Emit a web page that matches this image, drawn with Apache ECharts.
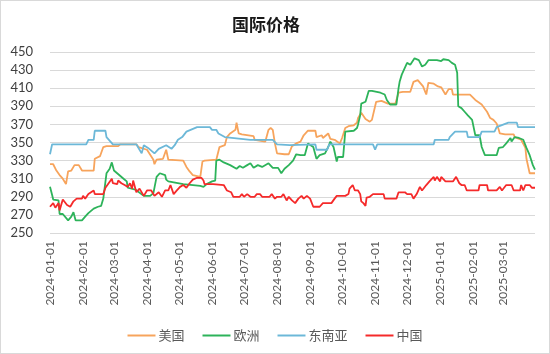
<!DOCTYPE html>
<html>
<head>
<meta charset="utf-8">
<script src="https://cdn.jsdelivr.net/npm/echarts@6/dist/echarts.min.js"></script>
<style>
  html, body { margin: 0; padding: 0; background: #fff; }
  #chart-container { width: 550px; height: 354px; box-sizing: border-box; border: 1px solid #d9d9d9; }
</style>
</head>
<body>
<div id="chart-container"></div>
<script>
var dom = document.getElementById("chart-container");
var myChart = echarts.init(dom, null, { renderer: "canvas" });

const seriesNames = ["美国", "欧洲", "东南亚", "中国"];
const yTicks = { min: 250, max: 450, step: 20 };

// daily categories, 2024-01-01 .. 2025-03-31
const firstDay = "2024-01-01";
const lastDay = "2025-03-31";
const dates = [];
for (let t = Date.parse(firstDay); t <= Date.parse(lastDay); t += 86400000) {
  dates.push(new Date(t).toISOString().slice(0, 10));
}

const usa = [
  ["2024-01-01", 326], ["2024-01-04", 326], ["2024-01-07", 319], ["2024-01-10", 314], ["2024-01-13", 310],
  ["2024-01-16", 304], ["2024-01-18", 318], ["2024-01-21", 319], ["2024-01-24", 325], ["2024-01-28", 325],
  ["2024-01-31", 319], ["2024-02-11", 319], ["2024-02-12", 332], ["2024-02-17", 335], ["2024-02-20", 345],
  ["2024-02-23", 346], ["2024-03-05", 346], ["2024-03-07", 348], ["2024-03-22", 348], ["2024-03-24", 345],
  ["2024-04-01", 342], ["2024-04-07", 331], ["2024-04-08", 326], ["2024-04-10", 331], ["2024-04-16", 332],
  ["2024-04-19", 342], ["2024-04-21", 331], ["2024-05-05", 330], ["2024-05-08", 323], ["2024-05-11", 318],
  ["2024-05-14", 314], ["2024-05-21", 312], ["2024-05-22", 312], ["2024-05-23", 329], ["2024-05-25", 330],
  ["2024-06-05", 331], ["2024-06-08", 345], ["2024-06-13", 347], ["2024-06-15", 356], ["2024-06-18", 360],
  ["2024-06-23", 364], ["2024-06-24", 372], ["2024-06-26", 360], ["2024-06-29", 359], ["2024-07-10", 357],
  ["2024-07-11", 353], ["2024-07-21", 351], ["2024-07-24", 364], ["2024-07-26", 366], ["2024-07-28", 364],
  ["2024-07-30", 349], ["2024-08-01", 338], ["2024-08-08", 337], ["2024-08-12", 337], ["2024-08-15", 346],
  ["2024-08-19", 349], ["2024-08-23", 351], ["2024-08-26", 358], ["2024-08-30", 363], ["2024-09-06", 363],
  ["2024-09-07", 356], ["2024-09-12", 358], ["2024-09-13", 355], ["2024-09-18", 360], ["2024-09-20", 354],
  ["2024-09-24", 353], ["2024-09-29", 349], ["2024-10-01", 355], ["2024-10-02", 356], ["2024-10-04", 366],
  ["2024-10-07", 368], ["2024-10-12", 369], ["2024-10-15", 372], ["2024-10-16", 377], ["2024-10-19", 383],
  ["2024-10-23", 376], ["2024-10-27", 373], ["2024-10-29", 375], ["2024-11-01", 390], ["2024-11-02", 395],
  ["2024-11-07", 396], ["2024-11-13", 393], ["2024-11-20", 393], ["2024-11-23", 405], ["2024-11-27", 406],
  ["2024-12-04", 406], ["2024-12-07", 417], ["2024-12-11", 419], ["2024-12-16", 412], ["2024-12-18", 406],
  ["2024-12-19", 403], ["2024-12-21", 416], ["2024-12-26", 415], ["2024-12-30", 412], ["2025-01-02", 411],
  ["2025-01-06", 403], ["2025-01-09", 409], ["2025-01-12", 409], ["2025-01-13", 403], ["2025-01-29", 403],
  ["2025-02-03", 397], ["2025-02-09", 392], ["2025-02-14", 384], ["2025-02-17", 377], ["2025-02-20", 375],
  ["2025-02-23", 371], ["2025-02-25", 364], ["2025-02-26", 360], ["2025-03-03", 359], ["2025-03-11", 359],
  ["2025-03-12", 356], ["2025-03-18", 353], ["2025-03-22", 344], ["2025-03-23", 332], ["2025-03-26", 316],
  ["2025-03-31", 316]
];

const europe = [
  ["2024-01-01", 301], ["2024-01-03", 292], ["2024-01-04", 287], ["2024-01-09", 286], ["2024-01-10", 271],
  ["2024-01-13", 271], ["2024-01-18", 264], ["2024-01-21", 268], ["2024-01-23", 273], ["2024-01-25", 264],
  ["2024-01-31", 264], ["2024-02-03", 268], ["2024-02-06", 272], ["2024-02-11", 277], ["2024-02-15", 279],
  ["2024-02-18", 280], ["2024-02-20", 288], ["2024-02-23", 316], ["2024-02-26", 321], ["2024-02-28", 328],
  ["2024-03-01", 319], ["2024-03-04", 316], ["2024-03-10", 310], ["2024-03-13", 307], ["2024-03-14", 300],
  ["2024-03-21", 298], ["2024-03-29", 291], ["2024-04-04", 291], ["2024-04-07", 294], ["2024-04-10", 312],
  ["2024-04-13", 316], ["2024-04-18", 314], ["2024-04-19", 309], ["2024-04-21", 307], ["2024-05-05", 304],
  ["2024-05-21", 302], ["2024-05-24", 301], ["2024-05-27", 304], ["2024-06-01", 307], ["2024-06-04", 308],
  ["2024-06-05", 330], ["2024-06-08", 331], ["2024-06-12", 328], ["2024-06-18", 325], ["2024-06-24", 321],
  ["2024-06-27", 324], ["2024-06-30", 322], ["2024-07-04", 325], ["2024-07-07", 327], ["2024-07-10", 322],
  ["2024-07-14", 325], ["2024-07-18", 323], ["2024-07-24", 327], ["2024-07-28", 322], ["2024-08-02", 322],
  ["2024-08-05", 316], ["2024-08-08", 321], ["2024-08-12", 325], ["2024-08-16", 330], ["2024-08-19", 337],
  ["2024-08-23", 336], ["2024-08-27", 336], ["2024-08-30", 349], ["2024-09-04", 345], ["2024-09-07", 332],
  ["2024-09-10", 336], ["2024-09-15", 338], ["2024-09-18", 345], ["2024-09-20", 351], ["2024-09-23", 345],
  ["2024-09-26", 329], ["2024-09-27", 334], ["2024-10-02", 334], ["2024-10-04", 362], ["2024-10-12", 363],
  ["2024-10-15", 366], ["2024-10-16", 370], ["2024-10-18", 380], ["2024-10-19", 393], ["2024-10-23", 395],
  ["2024-10-24", 399], ["2024-10-26", 407], ["2024-10-29", 407], ["2024-10-30", 405], ["2024-11-06", 405],
  ["2024-11-07", 403], ["2024-11-10", 403], ["2024-11-12", 397], ["2024-11-15", 392], ["2024-11-21", 392],
  ["2024-11-23", 410], ["2024-11-24", 417], ["2024-11-26", 425], ["2024-11-27", 427], ["2024-12-01", 438],
  ["2024-12-04", 436], ["2024-12-08", 443], ["2024-12-12", 441], ["2024-12-15", 434], ["2024-12-18", 436],
  ["2024-12-21", 441], ["2024-12-29", 441], ["2025-01-02", 440], ["2025-01-04", 442], ["2025-01-09", 441],
  ["2025-01-12", 438], ["2025-01-15", 436], ["2025-01-17", 427], ["2025-01-18", 390], ["2025-01-21", 388],
  ["2025-01-24", 384], ["2025-01-27", 380], ["2025-01-31", 375], ["2025-02-03", 358], ["2025-02-07", 358],
  ["2025-02-09", 345], ["2025-02-12", 336], ["2025-02-23", 336], ["2025-02-25", 344], ["2025-03-01", 345],
  ["2025-03-04", 349], ["2025-03-08", 355], ["2025-03-09", 351], ["2025-03-12", 356], ["2025-03-16", 355],
  ["2025-03-20", 353], ["2025-03-23", 344], ["2025-03-26", 336], ["2025-03-29", 325], ["2025-03-31", 320]
];

const seAsia = [
  ["2024-01-01", 337], ["2024-01-03", 348], ["2024-02-04", 348], ["2024-02-06", 353], ["2024-02-11", 353],
  ["2024-02-12", 363], ["2024-02-22", 363], ["2024-02-23", 356], ["2024-02-29", 348], ["2024-03-22", 348],
  ["2024-03-25", 342], ["2024-03-27", 338], ["2024-03-29", 347], ["2024-04-02", 344], ["2024-04-08", 338],
  ["2024-04-12", 343], ["2024-04-19", 347], ["2024-04-24", 343], ["2024-04-27", 347], ["2024-04-30", 353],
  ["2024-05-04", 356], ["2024-05-08", 362], ["2024-05-18", 367], ["2024-05-30", 367], ["2024-06-01", 364],
  ["2024-06-05", 364], ["2024-06-07", 360], ["2024-06-13", 356], ["2024-07-07", 353], ["2024-07-28", 353],
  ["2024-08-01", 348], ["2024-08-13", 347], ["2024-09-06", 348], ["2024-09-07", 342], ["2024-09-17", 342],
  ["2024-09-19", 348], ["2024-10-30", 348], ["2024-11-01", 342], ["2024-11-03", 348], ["2024-12-26", 348],
  ["2024-12-27", 353], ["2025-01-09", 353], ["2025-01-10", 356], ["2025-01-15", 362], ["2025-01-26", 362],
  ["2025-01-27", 356], ["2025-02-07", 356], ["2025-02-09", 362], ["2025-02-21", 362], ["2025-02-23", 367],
  ["2025-03-06", 372], ["2025-03-14", 372], ["2025-03-15", 367], ["2025-03-31", 367]
];

const china = [
  ["2024-01-01", 279], ["2024-01-04", 283], ["2024-01-06", 278], ["2024-01-09", 283], ["2024-01-10", 275],
  ["2024-01-13", 287], ["2024-01-17", 281], ["2024-01-20", 279], ["2024-01-23", 285], ["2024-01-26", 288],
  ["2024-01-31", 288], ["2024-02-01", 291], ["2024-02-03", 288], ["2024-02-06", 293], ["2024-02-11", 297],
  ["2024-02-12", 293], ["2024-02-20", 293], ["2024-02-22", 300], ["2024-02-25", 305], ["2024-02-28", 310],
  ["2024-02-29", 305], ["2024-03-04", 304], ["2024-03-05", 308], ["2024-03-08", 305], ["2024-03-11", 303],
  ["2024-03-14", 301], ["2024-03-16", 305], ["2024-03-18", 299], ["2024-03-19", 308], ["2024-03-22", 295],
  ["2024-03-25", 299], ["2024-03-29", 291], ["2024-04-01", 297], ["2024-04-05", 297], ["2024-04-08", 291],
  ["2024-04-12", 295], ["2024-04-15", 290], ["2024-04-18", 297], ["2024-04-21", 297], ["2024-04-23", 303],
  ["2024-04-26", 293], ["2024-04-29", 297], ["2024-05-02", 301], ["2024-05-05", 303], ["2024-05-08", 300],
  ["2024-05-11", 305], ["2024-05-14", 309], ["2024-05-18", 311], ["2024-05-22", 311], ["2024-05-24", 308],
  ["2024-05-25", 304], ["2024-06-02", 304], ["2024-06-12", 303], ["2024-06-15", 297], ["2024-06-19", 295],
  ["2024-06-21", 290], ["2024-06-27", 290], ["2024-06-29", 293], ["2024-07-01", 290], ["2024-07-04", 293],
  ["2024-07-07", 290], ["2024-07-11", 290], ["2024-07-13", 293], ["2024-07-16", 293], ["2024-07-18", 290],
  ["2024-07-25", 290], ["2024-07-27", 293], ["2024-07-30", 288], ["2024-08-01", 290], ["2024-08-05", 290],
  ["2024-08-07", 293], ["2024-08-10", 286], ["2024-08-12", 290], ["2024-08-15", 286], ["2024-08-18", 283],
  ["2024-08-21", 288], ["2024-08-24", 291], ["2024-08-26", 288], ["2024-08-29", 291], ["2024-09-01", 288],
  ["2024-09-04", 279], ["2024-09-10", 279], ["2024-09-13", 283], ["2024-09-21", 283], ["2024-09-24", 288],
  ["2024-09-26", 291], ["2024-10-04", 291], ["2024-10-07", 293], ["2024-10-08", 299], ["2024-10-11", 303],
  ["2024-10-13", 297], ["2024-10-16", 297], ["2024-10-18", 293], ["2024-10-19", 285], ["2024-10-21", 283],
  ["2024-10-23", 280], ["2024-10-24", 289], ["2024-10-27", 290], ["2024-10-30", 293], ["2024-11-09", 293],
  ["2024-11-10", 288], ["2024-11-21", 288], ["2024-11-23", 295], ["2024-11-29", 295], ["2024-12-01", 293],
  ["2024-12-05", 293], ["2024-12-07", 288], ["2024-12-10", 293], ["2024-12-13", 301], ["2024-12-15", 297],
  ["2024-12-19", 303], ["2024-12-22", 307], ["2024-12-26", 312], ["2024-12-27", 308], ["2024-12-29", 312],
  ["2025-01-01", 307], ["2025-01-02", 312], ["2025-01-06", 307], ["2025-01-13", 307], ["2025-01-16", 312],
  ["2025-01-19", 305], ["2025-01-21", 303], ["2025-01-24", 303], ["2025-01-26", 297], ["2025-02-06", 297],
  ["2025-02-07", 303], ["2025-02-14", 303], ["2025-02-15", 297], ["2025-02-23", 297], ["2025-02-26", 301],
  ["2025-02-28", 297], ["2025-03-04", 303], ["2025-03-09", 303], ["2025-03-11", 297], ["2025-03-17", 297],
  ["2025-03-18", 303], ["2025-03-20", 297], ["2025-03-22", 303], ["2025-03-26", 303], ["2025-03-28", 300],
  ["2025-03-31", 300]
];

const colors = ["#F7A45C", "#2DB35A", "#6CB8D8", "#F52A2A"];
const seriesData = [usa, europe, seAsia, china];

var option = {
  animation: false,
  color: colors,
  title: {
    text: "国际价格",
    left: 226,
    top: 10,
    textStyle: {
      fontFamily: "Noto Sans CJK SC",
      fontSize: 17,
      fontWeight: "bold",
      color: "#1a1a1a",
    },
  },
  legend: {
    data: seriesNames,
    left: "center",
    top: 323,
    icon: "rect",
    itemWidth: 28,
    itemHeight: 2,
    itemGap: 18,
    textStyle: {
      fontFamily: "Noto Sans CJK SC",
      fontSize: 13,
      color: "#595959",
      padding: [0, 0, 0, -2],
    },
  },
  grid: {
    left: 49,
    right: 14,
    top: 51,
    bottom: 120,
  },
  xAxis: {
    type: "category",
    boundaryGap: false,
    data: dates,
    axisLine: { show: false },
    axisTick: { show: false },
    axisLabel: {
      rotate: 90,
      margin: 8,
      fontFamily: "Lato",
      fontSize: 12,
      color: "#595959",
      interval: function (index, value) {
        return value.slice(8) === "01";
      },
    },
  },
  yAxis: {
    type: "value",
    min: yTicks.min,
    max: yTicks.max,
    interval: yTicks.step,
    axisLine: { show: false },
    axisTick: { show: false },
    axisLabel: {
      margin: 17,
      fontFamily: "Lato",
      fontSize: 13,
      color: "#404040",
    },
    splitLine: { lineStyle: { color: "#d9d9d9", width: 1 } },
  },
  series: seriesNames.map(function (name, i) {
    return {
      name: name,
      type: "line",
      showSymbol: false,
      symbol: "none",
      lineStyle: { width: 1.8 },
      data: seriesData[i],
    };
  }),
};

myChart.setOption(option);
window.addEventListener("resize", myChart.resize);
</script>
</body>
</html>
